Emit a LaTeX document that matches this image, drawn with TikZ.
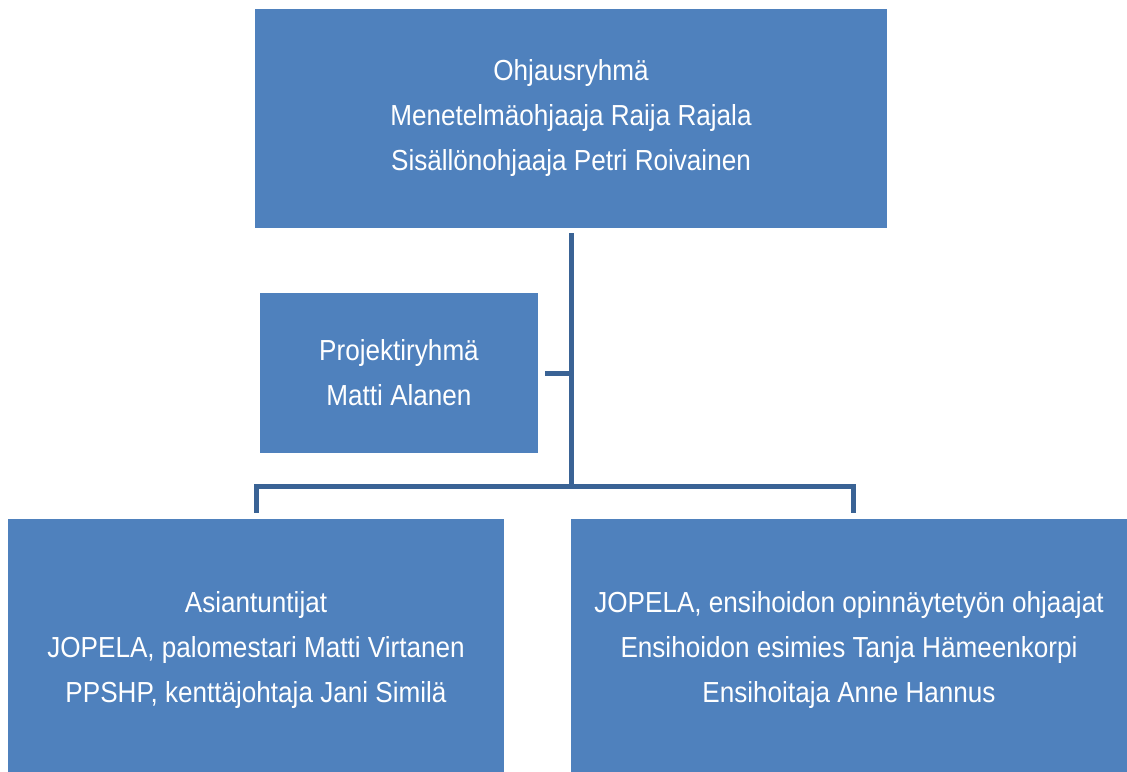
\documentclass[tikz,border=0pt]{standalone}
\usepackage{fontspec}
\setmainfont{Liberation Sans}[FakeStretch=0.9]
\definecolor{boxblue}{HTML}{4F81BD}
\definecolor{lineblue}{HTML}{3A6395}
\begin{document}
\begin{tikzpicture}[x=1pt, y=-1pt,
	orgbox/.style = {fill = boxblue, text = white, inner sep = 0, align = center,
		font = \fontsize{29}{45}\selectfont},
	link/.style = {draw = lineblue, line width = 5pt}]
\useasboundingbox (0,0) rectangle (1127,771);
\node[orgbox, minimum width = 632, minimum height = 219] (ohjaus) at (571,118.5)
	{Ohjausryhmä\\Menetelmäohjaaja Raija Rajala\\Sisällönohjaaja Petri Roivainen};
\node[orgbox, minimum width = 278, minimum height = 160] (projekti) at (399,373)
	{Projektiryhmä\\Matti Alanen};
\node[orgbox, minimum width = 496, minimum height = 262] (asiantuntijat) at (256,650)
	{Asiantuntijat\\JOPELA, palomestari Matti Virtanen\\PPSHP, kenttäjohtaja Jani Similä};
\node[orgbox, minimum width = 556, minimum height = 262] (ohjaajat) at (849,650)
	{JOPELA, ensihoidon opinnäytetyön ohjaajat\\Ensihoidon esimies Tanja Hämeenkorpi\\Ensihoitaja Anne Hannus};
\coordinate (hub) at (571,486);
\coordinate (rightdrop) at (853,513);
\draw[link] ([yshift = -5pt]ohjaus.south) -- (hub);
\draw[link] ([xshift = 7pt]projekti.east) -- (projekti.east -| hub);
\draw[link] ([yshift = 6pt]asiantuntijat.north) |- (hub) -| (rightdrop);
\end{tikzpicture}
\end{document}
